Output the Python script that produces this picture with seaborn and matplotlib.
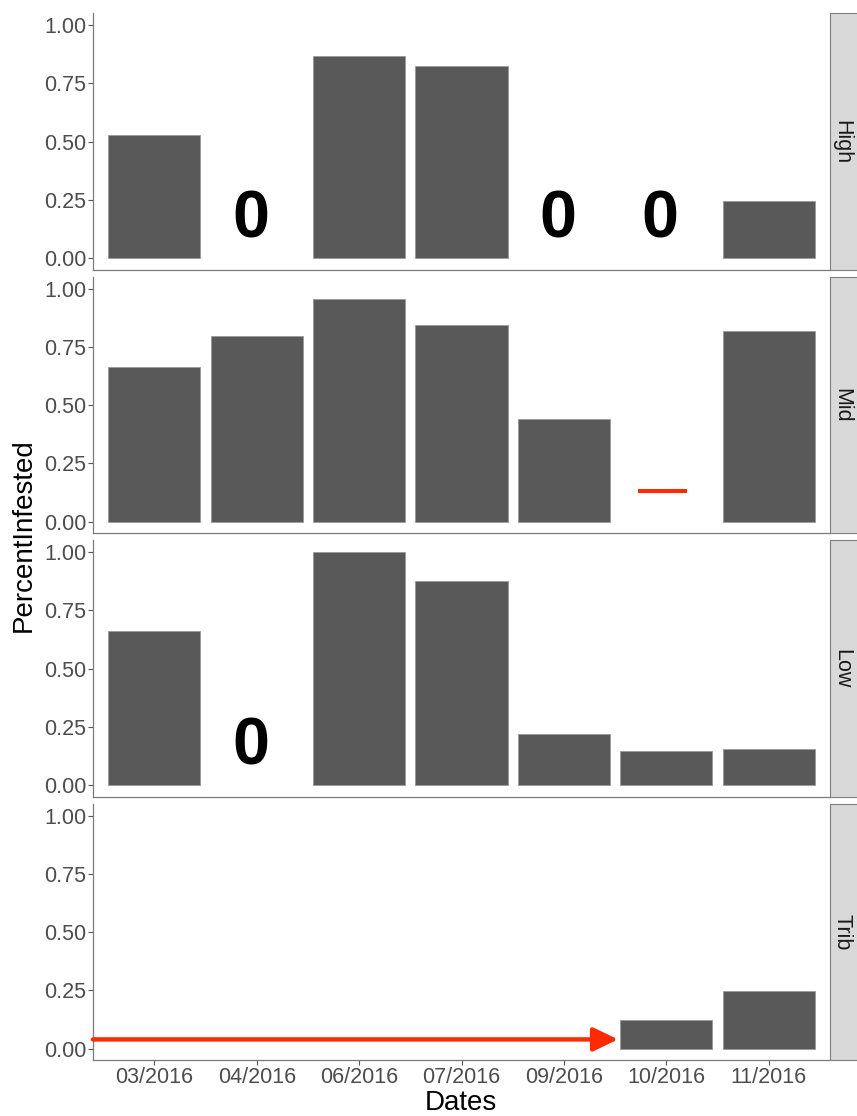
import numpy as np
import pandas as pd
import seaborn as sns
import matplotlib.pyplot as plt

# Dates sampled and sites (facet rows)
dates = ['03/2016', '04/2016', '06/2016', '07/2016', '09/2016', '10/2016', '11/2016']
sites = ['High', 'Mid', 'Low', 'Trib']

# proportion infested per site, 0 = none found (shown as "0"), NaN = no bar
high = [0.527, 0.0, 0.867, 0.824, 0.0, 0.0, 0.244]
mid = [0.663, 0.795, 0.955, 0.843, 0.442, np.nan, 0.816]
low = [0.663, 0.0, 1.0, 0.874, 0.219, 0.146, 0.155]
trib = [np.nan, np.nan, np.nan, np.nan, np.nan, 0.124, 0.249]

# red marks drawn over the bars
mid_mark_date = '10/2016'
mid_mark_value = 0.13
trib_arrow_to = '10/2016'
trib_arrow_value = 0.04

df = pd.DataFrame({
    'Site': np.repeat(sites, len(dates)),
    'Dates': dates * len(sites),
    'PercentInfested': high + mid + low + trib,
})

sns.set_style('white')
plt.rcParams['font.family'] = ['Liberation Sans', 'DejaVu Sans']

red = '#FF2A00'
bar_col = '#595959'
W, H = 857, 1116
fig = plt.figure(figsize=(W / 100, H / 100), dpi=100)

left_px, right_px = 93, 830
top0, ph, gap = 13.4, 256.5, 7.0

for i, site in enumerate(sites):
    top = top0 + i * (ph + gap)
    ax = fig.add_axes([left_px / W, 1 - (top + ph) / H, (right_px - left_px) / W, ph / H])
    sub = df[df['Site'] == site]
    bars = sub[sub['PercentInfested'] > 0]
    sns.barplot(data=bars, x='Dates', y='PercentInfested', order=dates, color=bar_col,
                saturation=1, width=0.9, errorbar=None, edgecolor='#9a9a9a', linewidth=0.6, ax=ax)

    # zero counts written as a big bold "0"
    for d, v in zip(sub['Dates'], sub['PercentInfested']):
        if v == 0:
            ax.text(dates.index(d) - 0.06, 0.09, '0', fontsize=48, fontweight='bold',
                    ha='center', va='baseline', color='black')

    if site == 'Mid':
        xi = dates.index(mid_mark_date)
        ax.hlines(mid_mark_value, xi - 0.28, xi + 0.2, color=red, lw=2.9)
    if site == 'Trib':
        xi = dates.index(trib_arrow_to)
        ax.annotate('', xy=(xi - 0.47, trib_arrow_value), xytext=(-0.6, trib_arrow_value),
                    arrowprops=dict(arrowstyle='-|>,head_length=1.5,head_width=0.72',
                                    color=red, lw=3.2, mutation_scale=10,
                                    shrinkA=0, shrinkB=0))

    ax.set_xlim(-0.6, len(dates) - 0.4)
    ax.set_ylim(-0.05, 1.05)
    ax.set_yticks([0, 0.25, 0.5, 0.75, 1.0])
    ax.set_yticklabels(['0.00', '0.25', '0.50', '0.75', '1.00'])
    ax.set_xlabel('')
    ax.set_ylabel('')
    for s in ['top', 'right']:
        ax.spines[s].set_visible(False)
    for s in ['left', 'bottom']:
        ax.spines[s].set_color('#7a7a7a')
        ax.spines[s].set_linewidth(0.9)
    ax.tick_params(axis='both', length=3.5, width=0.8, color='#555555',
                   labelsize=15.5, labelcolor='#4D4D4D', pad=1.5)
    ax.tick_params(axis='y', left=True)
    if i < len(sites) - 1:
        ax.tick_params(axis='x', bottom=False, labelbottom=False)
    else:
        ax.tick_params(axis='x', bottom=True)

    # facet strip on the right
    sax = fig.add_axes([right_px / W, 1 - (top + ph) / H, 29 / W, ph / H])
    sax.set_facecolor('#D9D9D9')
    sax.set_xticks([])
    sax.set_yticks([])
    for s in sax.spines.values():
        s.set_color('#7f7f7f')
        s.set_linewidth(0.8)
    sax.text(0.42, 0.5, site, rotation=-90, ha='center', va='center',
             fontsize=15.5, color='#1A1A1A', transform=sax.transAxes)

fig.text(23.5 / W, 1 - 535 / H, 'PercentInfested', rotation=90, ha='center', va='center',
         fontsize=20, color='black')
fig.text(461 / W, 1 - 1110 / H, 'Dates', ha='center', va='baseline', fontsize=20, color='black')

fig.savefig('out.png', dpi=100)
